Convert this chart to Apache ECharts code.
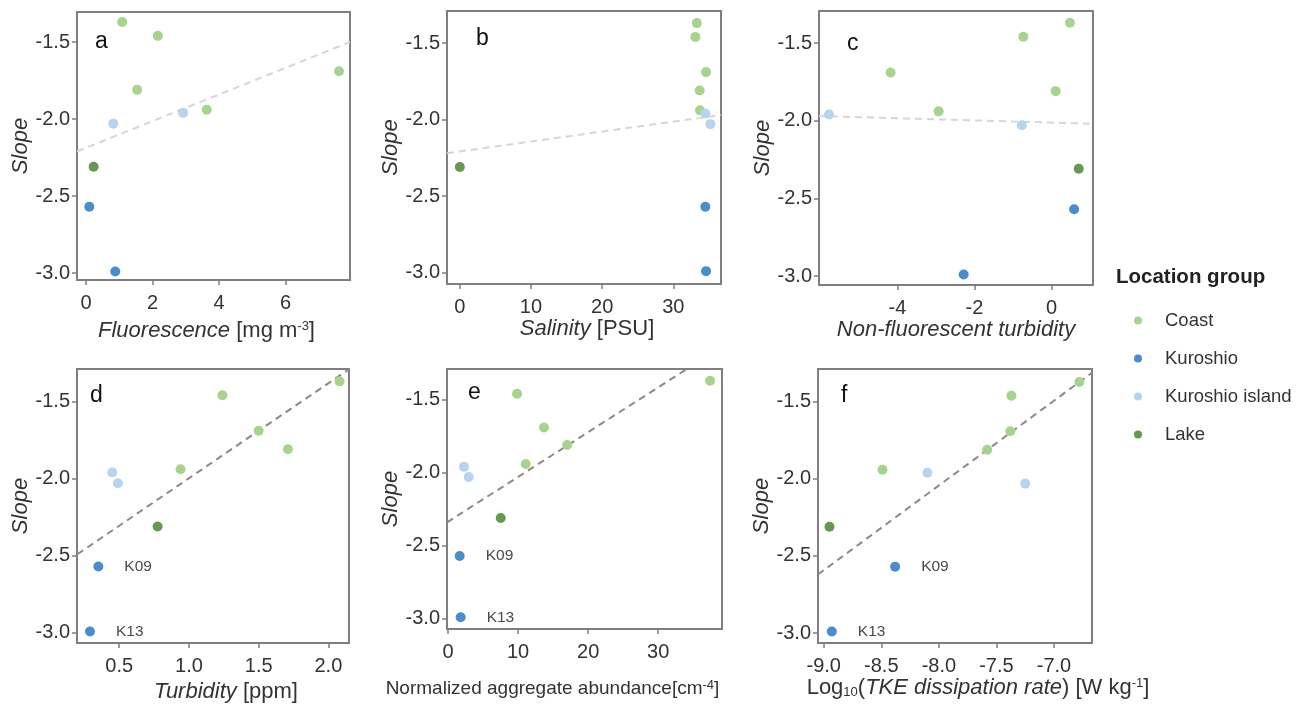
<!DOCTYPE html>
<html>
<head>
<meta charset="utf-8">
<script src="https://cdn.jsdelivr.net/npm/echarts@6/dist/echarts.min.js"></script>
<style>
  html, body { margin: 0; padding: 0; background: #fff; }
  #chart { width: 1306px; height: 707px; }
</style>
</head>
<body>
<div id="chart"></div>
<script>
// legend groups
var groups = ['Coast', 'Kuroshio', 'Kuroshio island', 'Lake']

// one entry per station, same order in every array
var stationGroup = ['Coast', 'Coast', 'Coast', 'Coast', 'Coast',
  'Kuroshio island', 'Kuroshio island', 'Lake', 'Kuroshio', 'Kuroshio']
var stationLabel = ['', '', '', '', '', '', '', '', 'K09', 'K13']
var slope = [-1.37, -1.46, -1.69, -1.81, -1.94, -1.96, -2.03, -2.31, -2.57, -2.99]
var fluorescence = [1.09, 2.16, 7.61, 1.54, 3.63, 2.92, 0.82, 0.23, 0.10, 0.88]
var salinity = [33.3, 33.1, 34.6, 33.7, 33.75, 34.5, 35.2, 0.0, 34.5, 34.6]
var nonFluorTurbidity = [0.48, -0.73, -4.18, 0.11, -2.93, -5.78, -0.77, 0.71, 0.59, -2.28]
var turbidity = [2.08, 1.24, 1.50, 1.71, 0.94, 0.45, 0.49, 0.775, 0.35, 0.29]
var aggregateAbundance = [37.4, 9.86, 13.7, 17.0, 11.1, 2.29, 2.96, 7.53, 1.67, 1.81]
var tkeDissipation = [-6.78, -7.37, -7.38, -7.58, -8.49, -8.10, -7.25, -8.95, -8.38, -8.93]

var fitFluorescence = [[-0.27, -2.21], [7.94, -1.50]]
var fitSalinity = [[-1.8, -2.22], [36.7, -1.97]]
var fitNonFluor = [[-6.04, -1.97], [1.08, -2.02]]
var fitTurbidity = [[0.2, -2.49], [2.15, -1.29]]
var fitAggregate = [[-0.14, -2.34], [34.1, -1.29]]
var fitTke = [[-9.05, -2.62], [-6.67, -1.31]]

// tick labels
var slopeTicks = [-3.0, -2.5, -2.0, -1.5]
var fluorescenceTicks = [0, 2, 4, 6]
var salinityTicks = [0, 10, 20, 30]
var nonFluorTicks = [-4, -2, 0]
var turbidityTicks = [0.5, 1.0, 1.5, 2.0]
var aggregateTicks = [0, 10, 20, 30]
var tkeTicks = [-9.0, -8.5, -8.0, -7.5, -7.0]

var colors = {
  'Coast': '#a7d48c',
  'Kuroshio': '#4a8dcd',
  'Kuroshio island': '#b6d4f1',
  'Lake': '#679850'
}
var textColor = '#333'
var boxColor = '#7f7f7f'
var font = 'Liberation Sans'

function richFor (size) {
  return {
    i: { fontStyle: 'italic', fontSize: size, color: textColor, fontFamily: font },
    sup: { fontSize: 13, color: textColor, fontFamily: font, verticalAlign: 'top', lineHeight: 13 },
    sub: { fontSize: 13, color: textColor, fontFamily: font, verticalAlign: 'bottom', lineHeight: 13 }
  }
}

var panels = [
  { letter: 'a', lx: 95, ly: 30, x: fluorescence, fit: fitFluorescence, fitColor: '#d6d6d6',
    ticks: fluorescenceTicks, digits: 0, xMin: -0.27, xMax: 7.94, yMin: -3.045, yMax: -1.305,
    grid: { left: 77, top: 12, width: 273, height: 268 }, nameSize: 22,
    name: '{i|Fluorescence} [mg m{sup|-3}]', nameGap: 40, namePad: [0, 14, 0, 0], labels: false },
  { letter: 'b', lx: 476, ly: 27, x: salinity, fit: fitSalinity, fitColor: '#d6d6d6',
    ticks: salinityTicks, digits: 0, xMin: -1.8, xMax: 36.7, yMin: -3.074, yMax: -1.291,
    grid: { left: 447, top: 11, width: 274, height: 273 }, nameSize: 22,
    name: '{i|Salinity} [PSU]', nameGap: 34, namePad: [0, 0, 0, 6], labels: false },
  { letter: 'c', lx: 847, ly: 32, x: nonFluorTurbidity, fit: fitNonFluor, fitColor: '#d6d6d6',
    ticks: nonFluorTicks, digits: 0, xMin: -6.04, xMax: 1.08, yMin: -3.058, yMax: -1.294,
    grid: { left: 819, top: 11, width: 274, height: 274 }, nameSize: 22,
    name: '{i|Non-fluorescent turbidity}', nameGap: 33, namePad: [0, 0, 0, 0], labels: false },
  { letter: 'd', lx: 90, ly: 384, x: turbidity, fit: fitTurbidity, fitColor: '#8a8a8a',
    ticks: turbidityTicks, digits: 1, xMin: 0.197, xMax: 2.148, yMin: -3.065, yMax: -1.29,
    grid: { left: 77, top: 369, width: 272, height: 274 }, nameSize: 22,
    name: '{i|Turbidity} [ppm]', nameGap: 38, namePad: [0, 0, 0, 26], labels: true },
  { letter: 'e', lx: 468, ly: 381, x: aggregateAbundance, fit: fitAggregate, fitColor: '#8a8a8a',
    ticks: aggregateTicks, digits: 0, xMin: -0.14, xMax: 39.1, yMin: -3.07, yMax: -1.29,
    grid: { left: 447, top: 369, width: 275, height: 260 }, nameSize: 19,
    name: 'Normalized aggregate abundance[cm{sup|-4}]', nameGap: 50, namePad: [0, 64, 0, 0], labels: true },
  { letter: 'f', lx: 841, ly: 384, x: tkeDissipation, fit: fitTke, fitColor: '#8a8a8a',
    ticks: tkeTicks, digits: 1, xMin: -9.05, xMax: -6.67, yMin: -3.065, yMax: -1.286,
    grid: { left: 818, top: 369, width: 274, height: 274 }, nameSize: 22,
    name: 'Log{sub|10}({i|TKE dissipation rate}) [W kg{sup|-1}]', nameGap: 31, namePad: [0, 0, 0, 46], labels: true }
]

var grids = []
var xAxes = []
var yAxes = []
var series = []
var titles = [{
  text: 'Location group', left: 1116, top: 267, padding: 0,
  textStyle: { fontSize: 20.5, fontWeight: 'bold', color: '#222', fontFamily: font }
}]

panels.forEach(function (p, k) {
  grids.push(Object.assign({ show: true, borderColor: boxColor, borderWidth: 2, containLabel: false }, p.grid))
  titles.push({
    text: p.letter, left: p.lx, top: p.ly, padding: 0,
    textStyle: { fontSize: 23, fontWeight: 'normal', color: '#111', fontFamily: font }
  })
  xAxes.push({
    type: 'value', gridIndex: k, min: p.xMin, max: p.xMax,
    splitLine: { show: false },
    axisLine: { show: true, onZero: false, lineStyle: { color: boxColor, width: 2 } },
    axisTick: { show: true, length: 5, customValues: p.ticks, lineStyle: { color: boxColor, width: 1.5 } },
    axisLabel: {
      customValues: p.ticks, margin: 13, fontSize: 20, color: textColor, fontFamily: font,
      formatter: function (v) { return v.toFixed(p.digits) }
    },
    name: p.name, nameLocation: 'middle', nameGap: p.nameGap,
    nameTextStyle: { fontSize: p.nameSize, color: textColor, fontFamily: font, padding: p.namePad, rich: richFor(p.nameSize) }
  })
  yAxes.push({
    type: 'value', gridIndex: k, min: p.yMin, max: p.yMax,
    splitLine: { show: false },
    axisLine: { show: true, onZero: false, lineStyle: { color: boxColor, width: 2 } },
    axisTick: { show: true, length: 5, customValues: slopeTicks, lineStyle: { color: boxColor, width: 1.5 } },
    axisLabel: {
      customValues: slopeTicks, margin: 7, fontSize: 20, color: textColor, fontFamily: font,
      formatter: function (v) { return v.toFixed(1) }
    },
    name: 'Slope', nameLocation: 'middle', nameGap: 45, nameRotate: 90,
    nameTextStyle: { fontSize: 22, fontStyle: 'italic', color: textColor, fontFamily: font }
  })
  series.push({
    name: 'fit', type: 'line', xAxisIndex: k, yAxisIndex: k,
    data: p.fit, symbol: 'none', silent: true, z: 1,
    lineStyle: { color: p.fitColor, width: 2, type: [7, 5] }
  })
  groups.forEach(function (g) {
    var pts = []
    for (var i = 0; i < slope.length; i++) {
      if (stationGroup[i] === g) pts.push({ name: stationLabel[i], value: [p.x[i], slope[i]] })
    }
    series.push({
      name: g, type: 'scatter', xAxisIndex: k, yAxisIndex: k, z: 2,
      symbol: 'circle', symbolSize: 10,
      itemStyle: { color: colors[g], opacity: 1 },
      label: {
        show: p.labels, position: 'right', distance: 21,
        fontSize: 15.5, color: '#4a4a4a', fontFamily: font,
        formatter: function (q) { return q.name }
      },
      data: pts
    })
  })
})

var chart = echarts.init(document.getElementById('chart'), null, { renderer: 'canvas' })
chart.setOption({
  backgroundColor: '#fff',
  animation: false,
  title: titles,
  legend: {
    data: groups, orient: 'vertical', left: 1134, top: 311, padding: 0,
    icon: 'circle', itemWidth: 8, itemHeight: 8, itemGap: 19,
    textStyle: { fontSize: 18.5, color: textColor, fontFamily: font, padding: [0, 0, 0, 18] }
  },
  grid: grids,
  xAxis: xAxes,
  yAxis: yAxes,
  series: series
})
</script>
</body>
</html>
